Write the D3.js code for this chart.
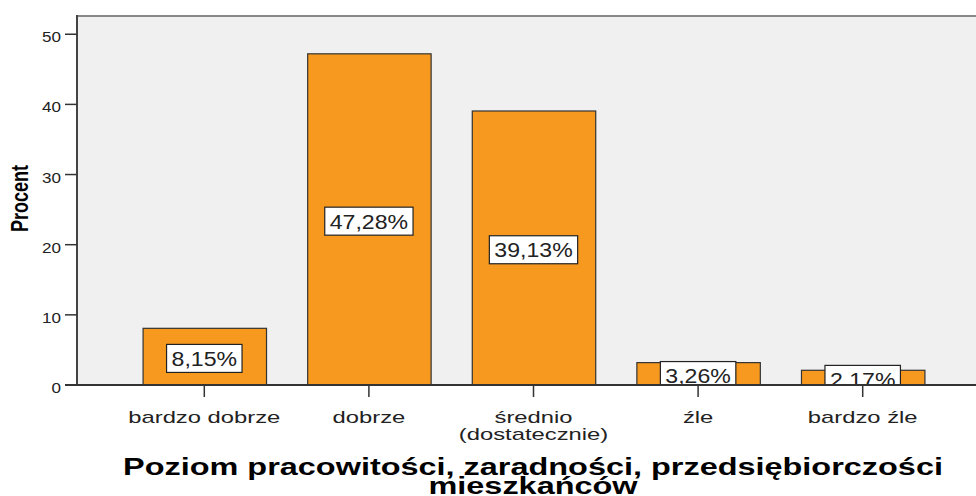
<!DOCTYPE html>
<html>
<head>
<meta charset="utf-8">
<script src="https://cdn.jsdelivr.net/npm/d3@7"></script>
<style>
  body { margin: 0; background: #fff; }
  text { font-family: "Liberation Sans", Arial, sans-serif; fill: #222; }
</style>
</head>
<body>
<div id="chart"></div>
<script>
var svgWidth = 976;
var svgHeight = 496;

// chart data
var categories = ["bardzo dobrze", "dobrze", "średnio\n(dostatecznie)", "źle", "bardzo źle"];
var values = [8.15, 47.28, 39.13, 3.26, 2.17];
var yTicks = [0, 10, 20, 30, 40, 50];
var yTitle = "Procent";
var xTitle = ["Poziom pracowitości, zaradności, przedsiębiorczości", "mieszkańców"];

// plot area (the original was stretched sideways, so text gets a scaleX)
var plot = { left: 77, right: 976, top: 16, bottom: 385 };

var svg = d3.select("#chart")
  .append("svg")
  .attr("width", svgWidth)
  .attr("height", svgHeight);

var xScale = d3.scaleBand()
  .domain(categories)
  .range([122, 945])
  .paddingInner(0.25)
  .paddingOuter(0.125);

var yScale = d3.scaleLinear()
  .domain([0, 52.6])
  .range([plot.bottom, plot.top]);

// background
svg.append("rect")
  .attr("x", plot.left)
  .attr("y", plot.top)
  .attr("width", plot.right - plot.left)
  .attr("height", plot.bottom - plot.top)
  .attr("fill", "#f0f0f0");

svg.append("clipPath")
  .attr("id", "plotClip")
  .append("rect")
  .attr("x", plot.left)
  .attr("y", plot.top)
  .attr("width", plot.right - plot.left)
  .attr("height", plot.bottom - plot.top);

var barGroup = svg.append("g").attr("clip-path", "url(#plotClip)");

barGroup.selectAll("rect.bar")
  .data(values)
  .enter()
  .append("rect")
  .attr("class", "bar")
  .attr("x", (d, i) => xScale(categories[i]) + 0.5)
  .attr("y", d => yScale(d) + 0.5)
  .attr("width", xScale.bandwidth())
  .attr("height", d => yScale(0) - yScale(d))
  .attr("fill", "#f7991f")
  .attr("stroke", "#333")
  .attr("stroke-width", 1.2);

// value labels in white boxes
var labelSx = 1.1;
var labelGroups = barGroup.selectAll("g.vlabel")
  .data(values)
  .enter()
  .append("g")
  .attr("class", "vlabel")
  .attr("transform", (d, i) => {
    var cx = xScale(categories[i]) + xScale.bandwidth() / 2;
    var cy = (yScale(d) + yScale(0)) / 2 + 2;
    return `translate(${cx}, ${cy})`;
  });

labelGroups.append("rect").attr("class", "box");
labelGroups.append("text")
  .attr("text-anchor", "middle")
  .attr("transform", `translate(0, 7.5) scale(${labelSx}, 1)`)
  .style("font-size", "21px")
  .text(d => d.toFixed(2).replace(".", ",") + "%");

labelGroups.each(function() {
  var g = d3.select(this);
  var w = g.select("text").node().getComputedTextLength() * labelSx + 10;
  g.select("rect.box")
    .attr("x", -w / 2)
    .attr("y", -14)
    .attr("width", w)
    .attr("height", 28)
    .attr("fill", "#fff")
    .attr("stroke", "#222")
    .attr("stroke-width", 1.2);
});

// top border
svg.append("line")
  .attr("x1", plot.left)
  .attr("x2", plot.right)
  .attr("y1", plot.top)
  .attr("y2", plot.top)
  .attr("stroke", "#888")
  .attr("stroke-width", 2);

// y axis
var yAxis = svg.append("g");
yAxis.append("line")
  .attr("x1", plot.left)
  .attr("x2", plot.left)
  .attr("y1", plot.top - 1)
  .attr("y2", plot.bottom)
  .attr("stroke", "#444")
  .attr("stroke-width", 2);

yAxis.selectAll("line.tick")
  .data(yTicks)
  .enter()
  .append("line")
  .attr("class", "tick")
  .attr("x1", 65)
  .attr("x2", plot.left)
  .attr("y1", d => yScale(d))
  .attr("y2", d => yScale(d))
  .attr("stroke", "#333")
  .attr("stroke-width", 1.5);

yAxis.selectAll("text")
  .data(yTicks)
  .enter()
  .append("text")
  .attr("text-anchor", "end")
  .attr("transform", d => `translate(61, ${yScale(d) + 8}) scale(1.22, 1)`)
  .style("font-size", "14px")
  .text(d => d);

svg.append("text")
  .attr("text-anchor", "middle")
  .attr("transform", "translate(28, 198.5) scale(1.3, 1) rotate(-90)")
  .style("font-size", "18px")
  .style("font-weight", "bold")
  .style("fill", "#000")
  .text(yTitle);

// x axis
svg.append("line")
  .attr("x1", 65)
  .attr("x2", plot.right)
  .attr("y1", plot.bottom)
  .attr("y2", plot.bottom)
  .attr("stroke", "#333")
  .attr("stroke-width", 2);

svg.selectAll("line.xtick")
  .data(categories)
  .enter()
  .append("line")
  .attr("class", "xtick")
  .attr("x1", d => xScale(d) + xScale.bandwidth() / 2)
  .attr("x2", d => xScale(d) + xScale.bandwidth() / 2)
  .attr("y1", plot.bottom)
  .attr("y2", 397)
  .attr("stroke", "#333")
  .attr("stroke-width", 1.5);

var catLabels = svg.selectAll("g.cat")
  .data(categories)
  .enter()
  .append("g")
  .attr("class", "cat")
  .attr("transform", d => `translate(${xScale(d) + xScale.bandwidth() / 2}, 423)`);

catLabels.selectAll("text")
  .data(d => d.split("\n"))
  .enter()
  .append("text")
  .attr("text-anchor", "middle")
  .attr("transform", (d, i) => `translate(0, ${i * 17}) scale(1.4, 1)`)
  .style("font-size", "17px")
  .text(d => d);

// x title
svg.selectAll("text.xtitle")
  .data(xTitle)
  .enter()
  .append("text")
  .attr("class", "xtitle")
  .attr("text-anchor", "middle")
  .attr("transform", (d, i) => `translate(533, ${475 + i * 19}) scale(1.41, 1)`)
  .style("font-size", "23px")
  .style("font-weight", "bold")
  .style("fill", "#000")
  .text(d => d);
</script>
</body>
</html>
